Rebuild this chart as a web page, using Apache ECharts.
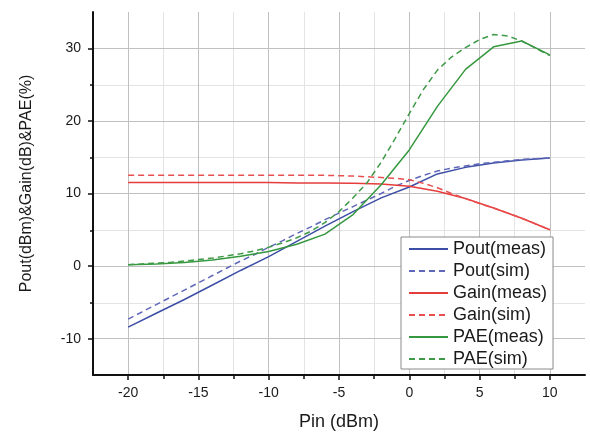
<!DOCTYPE html>
<html>
<head>
<meta charset="utf-8">
<script src="https://cdn.jsdelivr.net/npm/echarts@6/dist/echarts.min.js"></script>
<style>
  html, body { margin: 0; padding: 0; background: #ffffff; }
  #chart { width: 590px; height: 436px; }
</style>
</head>
<body>
<div id="chart"></div>
<script>
// Input power sweep (dBm): measured every 2 dB, simulated every 1 dB
const pinMeas = [-20, -18, -16, -14, -12, -10, -8, -6, -4, -2, 0, 2, 4, 6, 8, 10];
const pinSim = [-20, -19, -18, -17, -16, -15, -14, -13, -12, -11, -10, -9, -8, -7, -6, -5,
                -4, -3, -2, -1, 0, 1, 2, 3, 4, 5, 6, 7, 8, 9, 10];

// Output power (dBm)
const poutMeas = [-8.4, -6.5, -4.6, -2.6, -0.6, 1.3, 3.4, 5.5, 7.5, 9.4, 10.9, 12.7, 13.6, 14.2, 14.6, 14.9];
const poutSim = [-7.3, -6.3, -5.3, -4.3, -3.3, -2.3, -1.3, -0.3, 0.7, 1.6, 2.6, 3.5, 4.5, 5.4, 6.4, 7.3,
                 8.2, 9.1, 10.0, 11.0, 11.8, 12.5, 13.1, 13.5, 13.8, 14.1, 14.3, 14.5, 14.7, 14.8, 14.9];

// Gain (dB)
const gainMeas = [11.5, 11.5, 11.5, 11.5, 11.5, 11.5, 11.45, 11.45, 11.4, 11.3, 11.0, 10.3, 9.3, 8.0, 6.6, 5.0];
const gainSim = [12.5, 12.5, 12.5, 12.5, 12.5, 12.5, 12.5, 12.5, 12.5, 12.5, 12.5, 12.5, 12.5, 12.5, 12.5, 12.45,
                 12.4, 12.3, 12.2, 12.1, 11.9, 11.4, 10.8, 10.0, 9.3, 8.6, 8.0, 7.3, 6.6, 5.8, 5.0];

// Power-added efficiency (%)
const paeMeas = [0.2, 0.3, 0.5, 0.85, 1.35, 2.0, 3.0, 4.4, 7.1, 11.2, 16.0, 22.0, 27.1, 30.2, 31.0, 29.1];
const paeSim = [0.2, 0.3, 0.4, 0.5, 0.7, 0.9, 1.1, 1.4, 1.7, 2.1, 2.6, 3.2, 3.9, 4.8, 6.0, 7.5,
                9.4, 11.5, 14.3, 17.6, 21.0, 24.3, 27.0, 28.8, 30.1, 31.2, 31.9, 31.7, 31.0, 30.0, 29.0];

// Tick positions
const xMajor = [-20, -15, -10, -5, 0, 5, 10];
const xMinor = [-17.5, -12.5, -7.5, -2.5, 2.5, 7.5];
const yMajor = [-10, 0, 10, 20, 30];
const yMinor = [-5, 5, 15, 25];

const X_MIN = -22.5, X_MAX = 12.5, Y_MIN = -15, Y_MAX = 35;

const BLUE = '#3d4ea6', BLUE_SIM = '#5f67b8';
const RED = '#e63c3c', RED_SIM = '#ea4f4f';
const GREEN = '#35983f', GREEN_SIM = '#3f9a48';

const FONT = 'Liberation Sans, Arial, sans-serif';

function pairs(xs, ys) { return xs.map((x, i) => [x, ys[i]]); }

function curve(name, xs, ys, color, dashed) {
  return {
    name: name, type: 'line', xAxisIndex: 0, yAxisIndex: 0,
    data: pairs(xs, ys), symbol: 'none', smooth: false,
    lineStyle: { color: color, width: 1.5, type: dashed ? [6, 4] : 'solid' },
    itemStyle: { color: color },
    z: 3
  };
}

const gridBox = { left: 93, right: 5, top: 12, bottom: 60 };

const chart = echarts.init(document.getElementById('chart'), null, { renderer: 'canvas' });
chart.setOption({
  backgroundColor: '#ffffff',
  animation: false,
  grid: [
    Object.assign({ containLabel: false }, gridBox),
    Object.assign({ containLabel: false }, gridBox)
  ],
  xAxis: [
    {
      type: 'value', gridIndex: 0, min: X_MIN, max: X_MAX, position: 'bottom',
      name: 'Pin (dBm)', nameLocation: 'middle', nameGap: 38,
      nameTextStyle: { fontFamily: FONT, fontSize: 18, color: '#1a1a1a' },
      axisLine: { show: true, onZero: false, lineStyle: { color: '#111', width: 2 } },
      axisTick: { show: true, length: 5, customValues: xMajor, lineStyle: { color: '#111', width: 1.5 } },
      axisLabel: { show: true, customValues: xMajor, margin: 11, fontFamily: FONT, fontSize: 14, color: '#1a1a1a' },
      splitLine: { show: true, lineStyle: { color: '#c0c0c0', width: 1 } },
      z: 2
    },
    {
      type: 'value', gridIndex: 1, min: X_MIN, max: X_MAX, position: 'bottom',
      axisLine: { show: false, onZero: false },
      axisTick: { show: true, length: 3, customValues: xMinor, lineStyle: { color: '#111', width: 1.5 } },
      axisLabel: { show: false },
      splitLine: { show: true, lineStyle: { color: '#e4e4e4', width: 1 } },
      z: 1
    }
  ],
  yAxis: [
    {
      type: 'value', gridIndex: 0, min: Y_MIN, max: Y_MAX, position: 'left',
      name: 'Pout(dBm)&Gain(dB)&PAE(%)', nameLocation: 'middle', nameGap: 58,
      nameTextStyle: { fontFamily: FONT, fontSize: 16, color: '#1a1a1a', padding: [0, 0, 0, 20] },
      axisLine: { show: true, onZero: false, lineStyle: { color: '#111', width: 2 } },
      axisTick: { show: true, length: 5, customValues: yMajor, lineStyle: { color: '#111', width: 1.5 } },
      axisLabel: { show: true, customValues: yMajor, margin: 12, fontFamily: FONT, fontSize: 14, color: '#1a1a1a' },
      splitLine: { show: true, lineStyle: { color: '#c0c0c0', width: 1 } },
      z: 2
    },
    {
      type: 'value', gridIndex: 1, min: Y_MIN, max: Y_MAX, position: 'left',
      axisLine: { show: false, onZero: false },
      axisTick: { show: true, length: 3, customValues: yMinor, lineStyle: { color: '#111', width: 1.5 } },
      axisLabel: { show: false },
      splitLine: { show: true, lineStyle: { color: '#e4e4e4', width: 1 } },
      z: 1
    }
  ],
  legend: {
    orient: 'vertical', left: 401, top: 237,
    padding: [3, 6, 1, 7],
    itemWidth: 39, itemHeight: 14, itemGap: 4,
    backgroundColor: '#ffffff', borderColor: '#8a8a8a', borderWidth: 1, borderRadius: 0,
    itemStyle: { color: 'rgba(0,0,0,0)', borderColor: 'rgba(0,0,0,0)', borderWidth: 0 },
    textStyle: { fontFamily: FONT, fontSize: 18, color: '#1a1a1a', lineHeight: 18 },
    data: ['Pout(meas)', 'Pout(sim)', 'Gain(meas)', 'Gain(sim)', 'PAE(meas)', 'PAE(sim)']
  },
  series: [
    curve('Pout(meas)', pinMeas, poutMeas, BLUE, false),
    curve('Pout(sim)', pinSim, poutSim, BLUE_SIM, true),
    curve('Gain(meas)', pinMeas, gainMeas, RED, false),
    curve('Gain(sim)', pinSim, gainSim, RED_SIM, true),
    curve('PAE(meas)', pinMeas, paeMeas, GREEN, false),
    curve('PAE(sim)', pinSim, paeSim, GREEN_SIM, true)
  ]
});
</script>
</body>
</html>
